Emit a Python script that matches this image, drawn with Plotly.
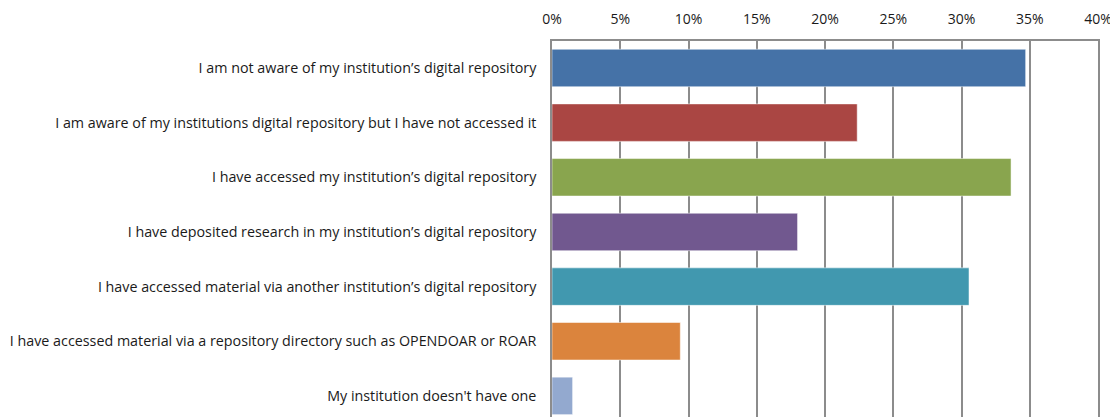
import plotly.graph_objects as go

categories = [
    "I am not aware of my institution’s digital repository",
    "I am aware of my institutions digital repository but I have not accessed it",
    "I have accessed my institution’s digital repository",
    "I have deposited research in my institution’s digital repository",
    "I have accessed material via another institution’s digital repository",
    "I have accessed material via a repository directory such as OPENDOAR or ROAR",
    "My institution doesn't have one",
]
values = [34.7, 22.36, 33.63, 17.99, 30.55, 9.4, 1.51]
colors = ["#4572A7", "#AA4643", "#89A54E", "#71588F", "#4198AF", "#DB843D", "#93A9CF"]
tick_vals = [0, 5, 10, 15, 20, 25, 30, 35, 40]
tick_text = ["0%", "5%", "10%", "15%", "20%", "25%", "30%", "35%", "40%"]

# page body has an 8px margin, so the figure is sized/offset to compensate
fig = go.Figure(go.Bar(
    x=values, y=categories, orientation="h",
    marker=dict(color=colors, line=dict(color="rgba(255,255,255,0.5)", width=1)),
))
fig.update_layout(
    width=1110, height=409,
    margin=dict(l=544, r=19.5, t=32.7, b=0),
    paper_bgcolor="white", plot_bgcolor="white",
    bargap=0.314, showlegend=False,
    font=dict(family="Open Sans", size=14, color="#1a1a1a"),
)
fig.update_xaxes(
    side="top", range=[0, 40], tickvals=tick_vals, ticktext=tick_text,
    showgrid=True, gridcolor="#8c8c8c", gridwidth=1.5,
    showline=True, linecolor="#8c8c8c", linewidth=1.5, mirror=True,
    zeroline=False, ticks="", ticklabelstandoff=10, automargin=False,
    ticklabeloverflow="allow",
    tickfont=dict(size=14, color="#1a1a1a"),
)
fig.update_yaxes(
    type="category", range=[6.386, -0.494],
    showline=True, linecolor="#8c8c8c", linewidth=1.5, mirror=True,
    ticks="", ticklabelstandoff=11, showgrid=False, automargin=False,
    tickfont=dict(size=14.3, color="#1a1a1a"),
)
fig.write_html("out.html")
